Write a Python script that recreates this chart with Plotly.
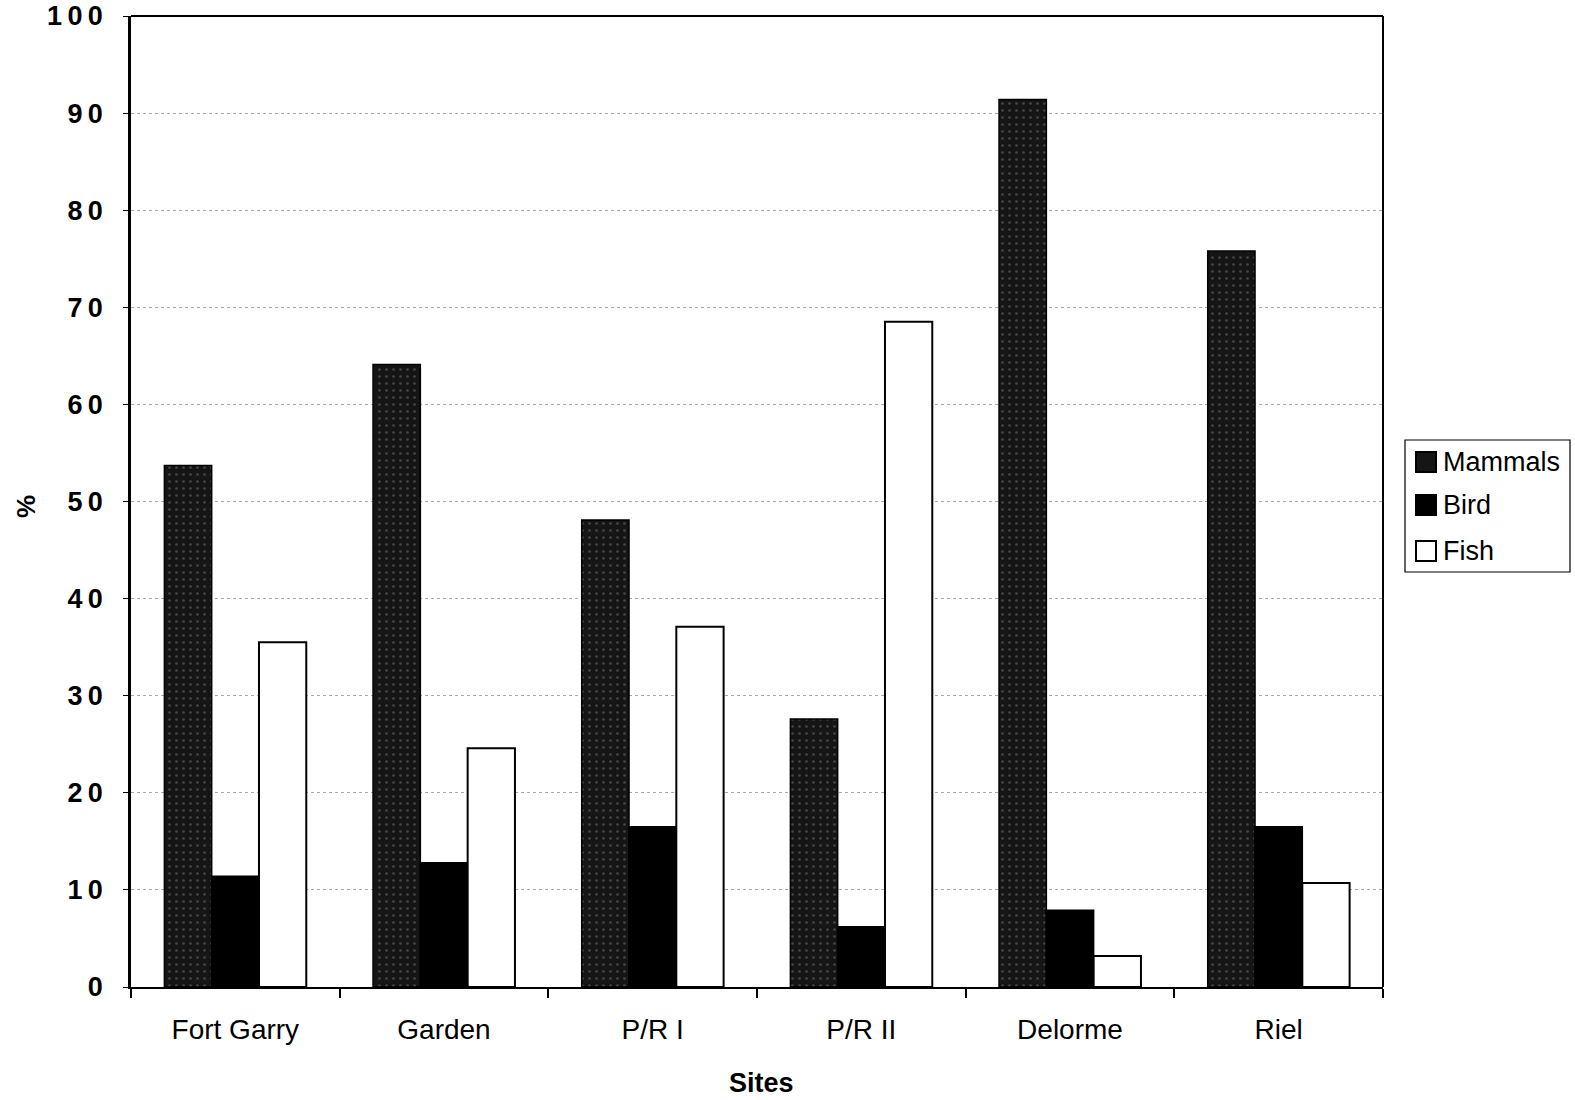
import plotly.graph_objects as go

sites = ["Fort Garry", "Garden", "P/R I", "P/R II", "Delorme", "Riel"]
mammals = [53.7, 64.1, 48.1, 27.6, 91.4, 75.8]
bird = [11.4, 12.8, 16.5, 6.2, 7.9, 16.5]
fish = [35.5, 24.6, 37.1, 68.5, 3.2, 10.7]
y_ticks = [0, 10, 20, 30, 40, 50, 60, 70, 80, 90, 100]
y_tick_text = ["\u2009".join(str(v)) for v in y_ticks]
series_names = ["Mammals", "Bird", "Fish"]

FONT = "Liberation Sans, Arial, sans-serif"
W, H = 1575, 1100
ML, MR, MT, MB = 131, 192, 16, 113
PW, PH = W - ML - MR, H - MT - MB


def px2x(px):
    return (px - ML) / PW


def px2y(py):
    return (H - MB - py) / PH


MAMMAL_FILL = "#151515"

fig = go.Figure()
fig.add_trace(go.Bar(
    name=series_names[0], x=sites, y=mammals,
    marker=dict(color=MAMMAL_FILL, line=dict(color="black", width=1.5),
                pattern=dict(shape=".", fgcolor="#777777", bgcolor=MAMMAL_FILL,
                             size=7, solidity=0.12)),
))
fig.add_trace(go.Bar(
    name=series_names[1], x=sites, y=bird,
    marker=dict(color="black", line=dict(color="black", width=1.5)),
))
fig.add_trace(go.Bar(
    name=series_names[2], x=sites, y=fish,
    marker=dict(color="white", line=dict(color="black", width=2)),
))

fig.update_layout(
    width=W, height=H,
    margin=dict(l=ML, r=MR, t=MT, b=MB),
    paper_bgcolor="white", plot_bgcolor="white",
    barmode="group", bargap=0.32, bargroupgap=0,
    font=dict(family=FONT, color="black"),
    showlegend=False,
    xaxis=dict(
        automargin=False,
        showline=True, linecolor="black", linewidth=2, mirror=False,
        ticks="outside", tickson="boundaries", ticklen=9, tickcolor="black", tickwidth=1.5,
        tickfont=dict(size=28, family=FONT, color="black"),
        ticklabelstandoff=16,
        showgrid=False,
    ),
    yaxis=dict(
        automargin=False,
        range=[0, 100], tickvals=y_ticks, ticktext=y_tick_text,
        showline=True, linecolor="black", linewidth=2.5, mirror=False,
        ticks="outside", ticklen=5, tickcolor="black",
        tickfont=dict(size=27, family=FONT, color="black", weight="bold"),
        ticklabelstandoff=15,
        showgrid=True, gridcolor="#a8a8a8", gridwidth=1, griddash="dot",
        zeroline=False,
    ),
)

# plot frame top and right
fig.add_shape(type="line", xref="paper", yref="paper", x0=0, x1=1, y0=1, y1=1,
              line=dict(color="black", width=2))
fig.add_shape(type="line", xref="paper", yref="paper", x0=1, x1=1, y0=0, y1=1,
              line=dict(color="black", width=2))

# axis titles
fig.add_annotation(text="<b>Sites</b>", xref="paper", yref="paper",
                   x=px2x(761), y=px2y(1083), showarrow=False,
                   xanchor="center", yanchor="middle",
                   font=dict(size=27, family=FONT, color="black"))
fig.add_annotation(text="<b>%</b>", xref="paper", yref="paper",
                   x=px2x(26), y=px2y(506), showarrow=False, textangle=-90,
                   xanchor="center", yanchor="middle",
                   font=dict(size=26, family=FONT, color="black"))

# manual legend
fig.add_shape(type="rect", xref="paper", yref="paper",
              x0=px2x(1405), x1=px2x(1570), y0=px2y(572), y1=px2y(440),
              line=dict(color="black", width=1.2), fillcolor="white", layer="below")
legend_fills = [MAMMAL_FILL, "black", "white"]
legend_cy = [462, 505, 551]
for name, fill, cy in zip(series_names, legend_fills, legend_cy):
    fig.add_shape(type="rect", xref="paper", yref="paper",
                  x0=px2x(1416), x1=px2x(1436), y0=px2y(cy + 10), y1=px2y(cy - 10),
                  line=dict(color="black", width=2), fillcolor=fill)
    fig.add_annotation(text=name, xref="paper", yref="paper",
                       x=px2x(1441), y=px2y(cy), showarrow=False,
                       xanchor="left", yanchor="middle",
                       font=dict(size=27, family=FONT, color="black"))

fig.write_html("out.html")
